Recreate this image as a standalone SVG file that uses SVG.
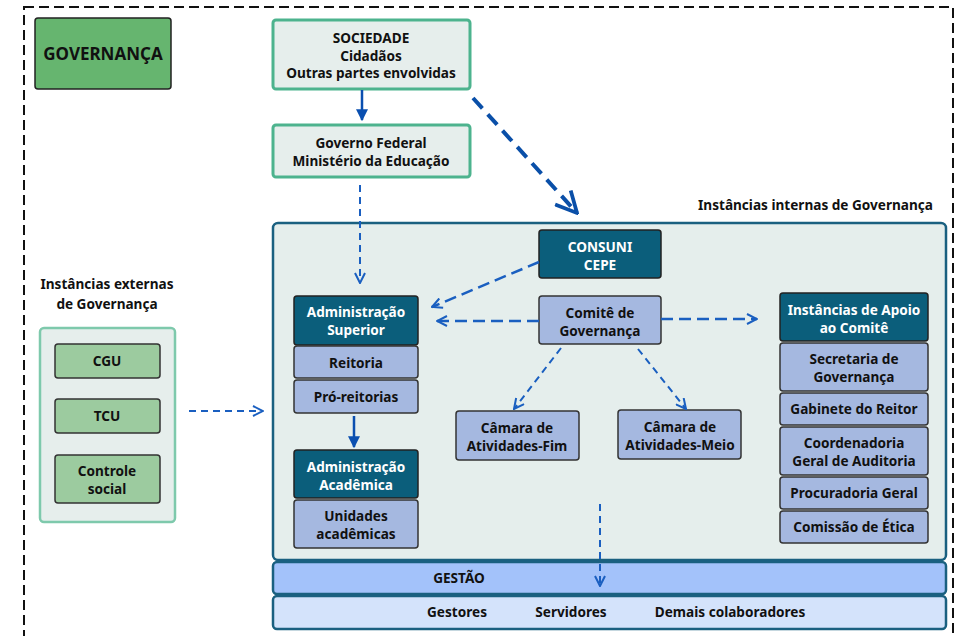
<svg xmlns="http://www.w3.org/2000/svg" width="960" height="636" viewBox="0 0 960 636">
<style>
text{font-family:"Noto Sans","Open Sans","DejaVu Sans",sans-serif;font-weight:bold;font-size:13.6px;text-anchor:middle;fill:#111}
.w{fill:#fff}
.teal{fill:#e6eeec;stroke:#4db38e;stroke-width:3}
.dark{fill:#0b5e7b;stroke:#222;stroke-width:1.5}
.light{fill:#a5b8e0;stroke:#333;stroke-width:1.5}
.green{fill:#9ccb9f;stroke:#333;stroke-width:1.5}
.dl{fill:none;stroke:#1a5fc0;stroke-width:2;stroke-dasharray:7 5}
.dt{fill:none;stroke:#1a5fc0;stroke-width:2.5;stroke-dasharray:12 6}
</style>
<defs>
<marker id="open" viewBox="0 0 12 12" refX="11" refY="6" markerWidth="12" markerHeight="12" markerUnits="userSpaceOnUse" orient="auto">
<path d="M1,1 L11,6 L1,11" fill="none" stroke="#1a5fc0" stroke-width="2"/>
</marker>
<marker id="openbig" viewBox="0 0 16 16" refX="15" refY="8" markerWidth="24" markerHeight="24" markerUnits="userSpaceOnUse" orient="auto">
<path d="M1,1 L15,8 L1,15" fill="none" stroke="#0a4fa8" stroke-width="2.5"/>
</marker>
<marker id="solid" viewBox="0 0 10 10" refX="9" refY="5" markerWidth="12" markerHeight="12" markerUnits="userSpaceOnUse" orient="auto">
<path d="M0,0 L10,5 L0,10 Z" fill="#0a4fb0"/>
</marker>
</defs>
<rect x="24" y="7" width="929" height="640" fill="none" stroke="#111" stroke-width="2" stroke-dasharray="10 5"/>

<g id="governanca"><rect x="35" y="18" width="136" height="71" rx="3" fill="#66b56f" stroke="#222" stroke-width="1.5"/><text x="103" y="60" style="font-size:17px">GOVERNANÇA</text></g>

<g id="sociedade"><rect class="teal" x="273" y="20" width="197" height="69" rx="3"/><text x="371" y="43">SOCIEDADE</text><text x="371" y="60.5">Cidadãos</text><text x="371" y="78">Outras partes envolvidas</text></g>

<g id="governo"><rect class="teal" x="273" y="125" width="197" height="52" rx="3"/><text x="371" y="148">Governo Federal</text><text x="371" y="165.5">Ministério da Educação</text></g>

<g id="label-internas"><text x="933" y="210" style="text-anchor:end">Instâncias internas de Governança</text></g>

<g id="internas"><rect x="273" y="223" width="673" height="337" rx="5" fill="#e5eeec" stroke="#1a6080" stroke-width="2.5"/></g>

<g id="consuni"><rect class="dark" x="539" y="230" width="122" height="48" rx="3"/><text class="w" x="600" y="252">CONSUNI</text><text class="w" x="600" y="270">CEPE</text></g>

<g id="comite"><rect class="light" x="539" y="296" width="122" height="48" rx="3"/><text x="600" y="318">Comitê de</text><text x="600" y="336">Governança</text></g>

<g id="adm-superior"><rect class="dark" x="294" y="296" width="124" height="49" rx="3"/><text class="w" x="356" y="317">Administração</text><text class="w" x="356" y="335">Superior</text></g>
<g id="reitoria"><rect class="light" x="294" y="346" width="124" height="32" rx="3"/><text x="356" y="368">Reitoria</text></g>
<g id="pro-reitorias"><rect class="light" x="294" y="380" width="124" height="33" rx="3"/><text x="356" y="402">Pró-reitorias</text></g>
<g id="adm-academica"><rect class="dark" x="294" y="450" width="124" height="48" rx="3"/><text class="w" x="356" y="471.5">Administração</text><text class="w" x="356" y="489.5">Acadêmica</text></g>
<g id="unidades"><rect class="light" x="294" y="500" width="124" height="48" rx="3"/><text x="356" y="520.5">Unidades</text><text x="356" y="538.5">acadêmicas</text></g>

<g id="camara-fim"><rect class="light" x="456" y="411" width="123" height="49" rx="3"/><text x="517" y="433">Câmara de</text><text x="517" y="451">Atividades-Fim</text></g>
<g id="camara-meio"><rect class="light" x="618" y="410" width="123" height="49" rx="3"/><text x="680" y="432">Câmara de</text><text x="680" y="450">Atividades-Meio</text></g>

<g id="apoio"><rect class="dark" x="780" y="293" width="148" height="48" rx="3"/><text class="w" x="854" y="315">Instâncias de Apoio</text><text class="w" x="854" y="332.5">ao Comitê</text></g>
<g id="secretaria"><rect class="light" x="780" y="343" width="148" height="48" rx="3"/><text x="854" y="364">Secretaria de</text><text x="854" y="382">Governança</text></g>
<g id="gabinete"><rect class="light" x="780" y="393" width="148" height="32" rx="3"/><text x="854" y="414">Gabinete do Reitor</text></g>
<g id="coordenadoria"><rect class="light" x="780" y="427" width="148" height="48" rx="3"/><text x="854" y="448">Coordenadoria</text><text x="854" y="465.5">Geral de Auditoria</text></g>
<g id="procuradoria"><rect class="light" x="780" y="477" width="148" height="32" rx="3"/><text x="854" y="498">Procuradoria Geral</text></g>
<g id="etica"><rect class="light" x="780" y="511" width="148" height="32" rx="3"/><text x="854" y="532">Comissão de Ética</text></g>

<g id="gestao"><rect x="273" y="562" width="673" height="32" rx="4" fill="#a3c2fa" stroke="#1a6080" stroke-width="2.5"/><text x="459" y="583">GESTÃO</text></g>
<g id="gestores"><rect x="273" y="596" width="673" height="33" rx="4" fill="#d4e3fb" stroke="#1a6080" stroke-width="2.5"/><text x="457" y="617">Gestores</text><text x="571" y="617">Servidores</text><text x="730" y="617">Demais colaboradores</text></g>

<g id="label-externas"><text x="107" y="289">Instâncias externas</text><text x="107" y="309">de Governança</text></g>
<g id="externas"><rect x="40" y="328" width="135" height="194" rx="4" fill="#e6eeec" stroke="#7ec9ac" stroke-width="2.5"/></g>
<g id="cgu"><rect class="green" x="55" y="344" width="105" height="34" rx="3"/><text x="107" y="366">CGU</text></g>
<g id="tcu"><rect class="green" x="55" y="399" width="105" height="34" rx="3"/><text x="107" y="421">TCU</text></g>
<g id="controle"><rect class="green" x="55" y="455" width="105" height="48" rx="3"/><text x="107" y="476">Controle</text><text x="107" y="494">social</text></g>

<g id="connectors">
<line x1="362" y1="90" x2="362" y2="120" stroke="#0a4fb0" stroke-width="2.5" marker-end="url(#solid)"/>
<line x1="473" y1="98" x2="577" y2="213" stroke="#0a4fa8" stroke-width="4" stroke-dasharray="14 8" fill="none" marker-end="url(#openbig)"/>
<line class="dl" x1="360" y1="185" x2="360" y2="283" marker-end="url(#open)"/>
<line class="dt" x1="539" y1="262" x2="432" y2="307" marker-end="url(#open)"/>
<line class="dt" x1="539" y1="321" x2="437" y2="321" marker-end="url(#open)"/>
<line class="dt" x1="661" y1="319" x2="757" y2="319" marker-end="url(#open)"/>
<line class="dl" x1="561" y1="348" x2="514" y2="409" marker-end="url(#open)"/>
<line class="dl" x1="638" y1="349" x2="686" y2="409" marker-end="url(#open)"/>
<line class="dl" x1="189" y1="411" x2="263" y2="411" marker-end="url(#open)"/>
<line x1="354" y1="416" x2="354" y2="447" stroke="#0a4fb0" stroke-width="2.5" marker-end="url(#solid)"/>
<line class="dl" x1="600" y1="504" x2="600" y2="586" marker-end="url(#open)"/>
</g>
</svg>
